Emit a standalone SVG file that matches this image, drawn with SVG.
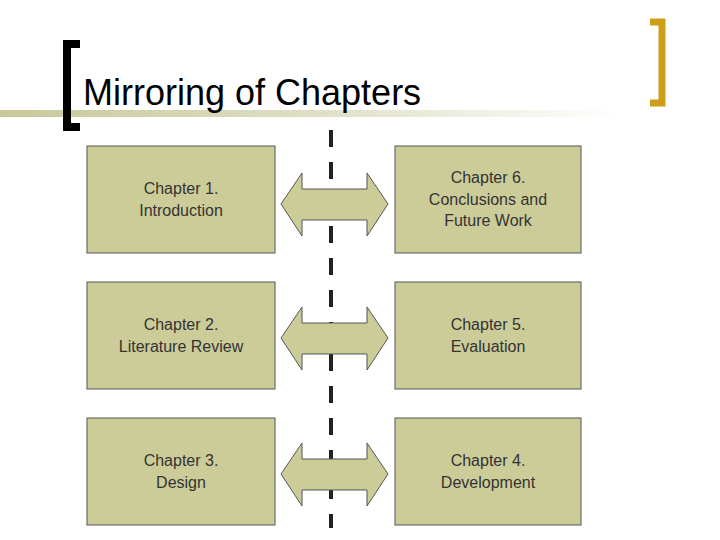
<svg xmlns="http://www.w3.org/2000/svg" width="720" height="540" viewBox="0 0 720 540">
<defs>
<linearGradient id="g" x1="0" x2="1" y1="0" y2="0">
<stop offset="0" stop-color="#c8c89a"/><stop offset="0.5" stop-color="#dedec4"/><stop offset="1" stop-color="#ffffff"/>
</linearGradient>
<style>
.box{fill:#cccc99;stroke:#555;stroke-width:1}
.arr{fill:#cccc99;stroke:#555;stroke-width:1}
.t{font-family:"Liberation Sans",Arial,sans-serif;font-size:16px;fill:#333;text-anchor:middle}
</style>
</defs>
<rect width="720" height="540" fill="#fff"/>
<rect x="0" y="110" width="620" height="7" fill="url(#g)"/>
<path d="M80,44 H67 V127 H80" fill="none" stroke="#000" stroke-width="8"/>
<path d="M650,22 H662 V103 H650" fill="none" stroke="#cc9e1a" stroke-width="7"/>
<text x="83" y="105" font-family="Liberation Sans,Arial,sans-serif" font-size="36" fill="#000">Mirroring of Chapters</text>
<g id="connectors">
<line x1="331" y1="130" x2="331" y2="528" stroke="#222" stroke-width="4" stroke-dasharray="17 15"/>
<path class="arr" d="M281,204 L302,173 V189 H367 V173 L388,204 L367,236 V220 H302 V236 Z"/>
<path class="arr" d="M281,338 L302,307 V323 H367 V307 L388,338 L367,370 V354 H302 V370 Z"/>
<path class="arr" d="M281,474 L302,443 V459 H367 V443 L388,474 L367,506 V490 H302 V506 Z"/>
</g>
<g id="ch1"><rect class="box" x="87" y="146" width="188" height="107"/><text class="t" x="181" y="194">Chapter 1.</text><text class="t" x="181" y="216">Introduction</text></g>
<g id="ch6"><rect class="box" x="395" y="146" width="186" height="107"/><text class="t" x="488" y="183">Chapter 6.</text><text class="t" x="488" y="205">Conclusions and</text><text class="t" x="488" y="226">Future Work</text></g>
<g id="ch2"><rect class="box" x="87" y="282" width="188" height="107"/><text class="t" x="181" y="330">Chapter 2.</text><text class="t" x="181" y="352">Literature Review</text></g>
<g id="ch5"><rect class="box" x="395" y="282" width="186" height="107"/><text class="t" x="488" y="330">Chapter 5.</text><text class="t" x="488" y="352">Evaluation</text></g>
<g id="ch3"><rect class="box" x="87" y="418" width="188" height="107"/><text class="t" x="181" y="466">Chapter 3.</text><text class="t" x="181" y="488">Design</text></g>
<g id="ch4"><rect class="box" x="395" y="418" width="186" height="107"/><text class="t" x="488" y="466">Chapter 4.</text><text class="t" x="488" y="488">Development</text></g>
</svg>
